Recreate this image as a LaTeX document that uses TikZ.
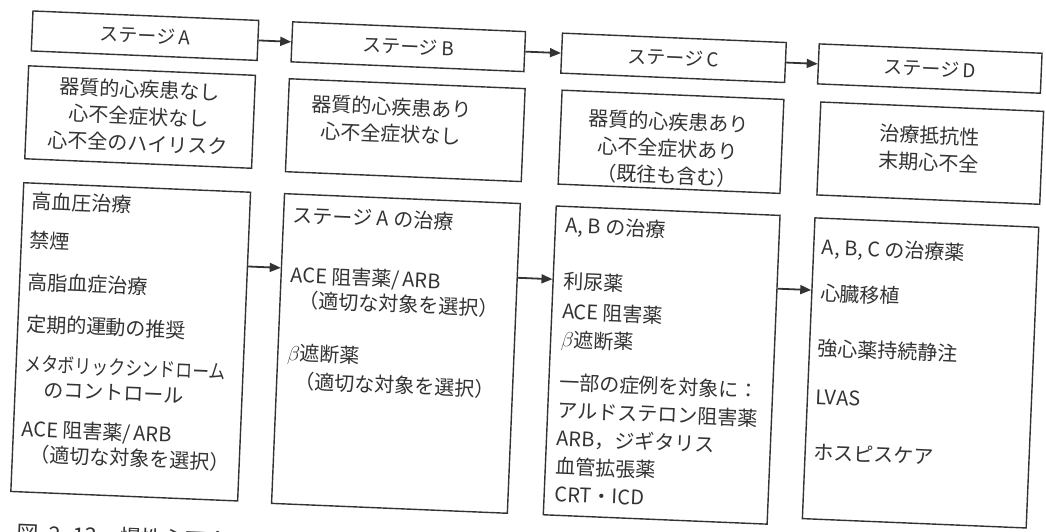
\documentclass[tikz,border=0pt]{standalone}
\usepackage{fontspec}
\setmainfont{Noto Sans CJK JP}
\usepackage{graphicx}
\usetikzlibrary{arrows.meta}
\definecolor{ink}{HTML}{333333}
\begin{document}
\begin{tikzpicture}[x=1pt,y=-1pt,
  box/.style={draw=ink, line width=1.4pt, inner sep=0pt, anchor=north west, transform shape},
  hdr/.style={box, font=\fontsize{19}{22}\selectfont, text=ink},
  ctext/.style={anchor=north, align=center, inner sep=0pt, text=ink, font=\fontsize{20}{27}\selectfont, transform shape},
  ttext/.style={anchor=north west, align=left, inner sep=0pt, text=ink, transform shape},
  captext/.style={anchor=base west, inner sep=0pt, text=ink, font=\fontsize{22}{24}\selectfont, transform shape},
  arr/.style={draw=ink, line width=1.8pt, -{Triangle[length=11pt,width=9pt]}},
]
\fill[white] (0,0) rectangle (1046,532);
\useasboundingbox (0,0) rectangle (1046,532);
\clip (0,0) rectangle (1046,532);
\begin{scope}[rotate around={-2.4:(523,266)}]
% headers
\node[hdr, minimum width=226pt, minimum height=40pt] (hA) at (22,31) {ステージ\,A};
\node[hdr, minimum width=233pt, minimum height=40pt] (hB) at (282,31) {ステージ\,B};
\node[hdr, minimum width=224pt, minimum height=40pt] (hC) at (552,31) {ステージ\,C};
\node[hdr, minimum width=223pt, minimum height=40pt] (hD) at (809,31) {ステージ\,D};
% condition boxes
\node[box, minimum width=227pt, minimum height=93pt] (cA) at (20,86) {};
\node[box, minimum width=236pt, minimum height=93pt] (cB) at (281,88) {};
\node[box, minimum width=222pt, minimum height=94pt] (cC) at (554,88) {};
\node[box, minimum width=223pt, minimum height=93pt] (cD) at (813,89) {};
\node[ctext] (cAt) at (133,96) {器質的心疾患なし\\心不全症状なし\\心不全のハイリスク};
\node[ctext] (cBt) at (385,103) {器質的心疾患あり\\心不全症状なし};
\node[ctext] (cCt) at (663,106) {器質的心疾患あり\\心不全症状あり\\（既往も含む）};
\node[ctext] (cDt) at (924,109) {治療抵抗性\\末期心不全};
% treatment boxes
\node[box, minimum width=227pt, minimum height=309pt] (tA) at (20,203) {};
\node[box, minimum width=236pt, minimum height=310pt] (tB) at (281,203) {};
\node[box, minimum width=224pt, minimum height=309pt] (tC) at (553,204) {};
\node[box, minimum width=224pt, minimum height=301pt] (tD) at (812,205) {};
\node[ttext, font=\fontsize{20}{25}\selectfont] (tAt) at (29,212) {高血圧治療\\[14pt]
禁煙\\[17pt]
高脂血症治療\\[17pt]
定期的運動の推奨\\[15pt]
\scalebox{0.84}[1]{メタボリックシンドローム}\\
\hspace{20pt}のコントロール\\[15pt]
ACE 阻害薬/\,ARB\\
\hspace{9pt}（適切な対象を選択）};
\node[ttext, font=\fontsize{20}{25}\selectfont] (tBt) at (291,215) {ステージ A の治療\\[35pt]
ACE 阻害薬/\,ARB\\
\hspace{9pt}（適切な対象を選択）\\[28pt]
$\beta$遮断薬\\[3pt]
\hspace{9pt}（適切な対象を選択）};
\node[ttext, font=\fontsize{20}{28}\selectfont] (tCt) at (564,214) {A, B の治療\\[28pt]
利尿薬\\[2pt]
ACE 阻害薬\\
$\beta$遮断薬\\[15pt]
一部の症例を対象に：\\
アルドステロン阻害薬\\
ARB，ジギタリス\\
血管拡張薬\\
CRT・ICD};
\node[ttext, font=\fontsize{20}{28}\selectfont] (tDt) at (821,225) {A, B, C の治療薬\\[18pt]
心臓移植\\[27pt]
強心薬持続静注\\[21pt]
LVAS\\[27pt]
ホスピスケア};
% connectors
\coordinate (ay) at (0,278);
\draw[arr] (hA.east) -- (hB.west);
\draw[arr] (hB.east) -- (hC.west);
\draw[arr] (hC.east) -- (hD.west);
\draw[arr] (tA.east |- ay) -- (tB.west |- ay);
\draw[arr] (tB.east |- ay) -- (tC.west |- ay);
\draw[arr] (tC.east |- ay) -- (tD.west |- ay);
% caption
\node[captext] (capt) at (28,562) {図\hspace{10pt}2−13\hspace{22pt}慢性心不全のステージ分類};
\end{scope}
\end{tikzpicture}
\end{document}
